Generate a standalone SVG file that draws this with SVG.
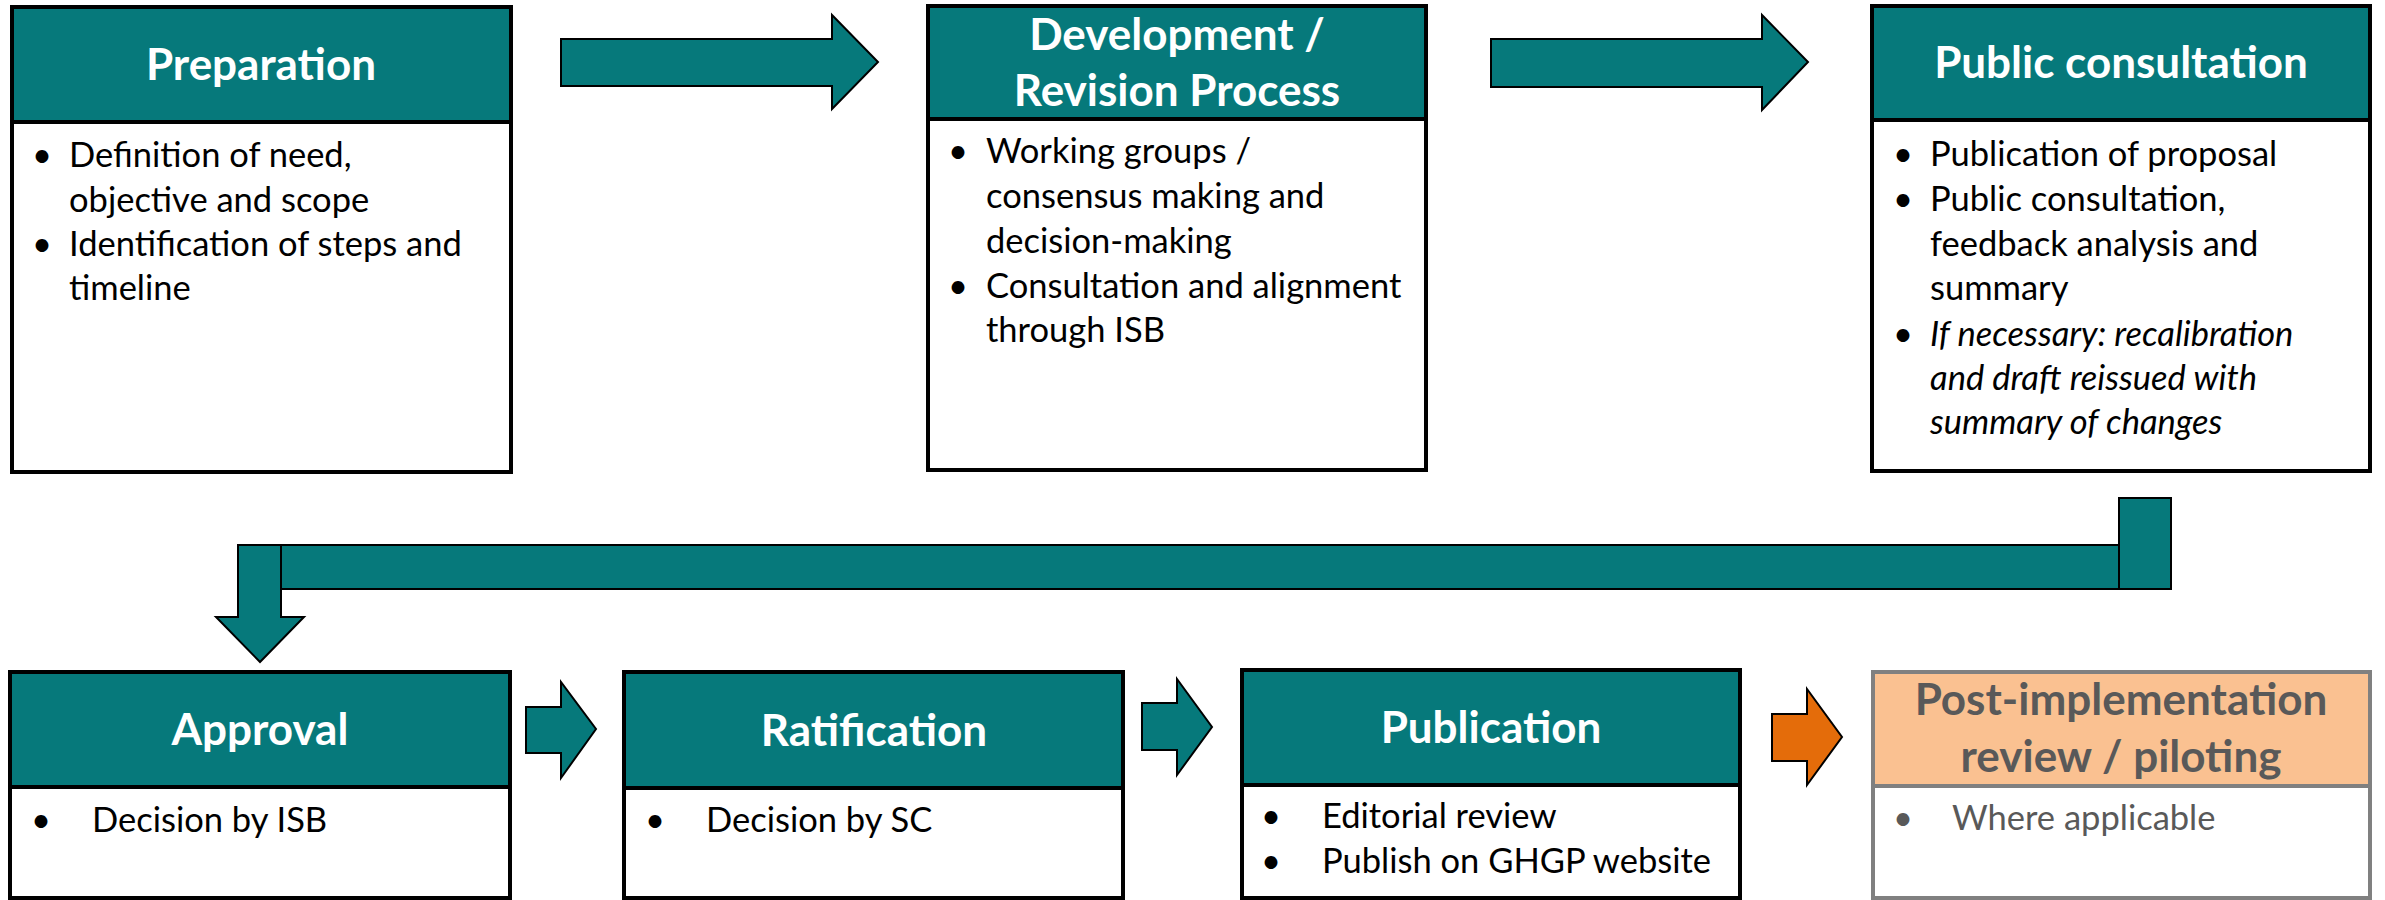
<svg xmlns="http://www.w3.org/2000/svg" width="2385" height="900" viewBox="0 0 2385 900">
<style>
.box{fill:#fff;stroke:#000;stroke-width:4}
.hdr{fill:#06797b;stroke:#000;stroke-width:4}
.gbox{fill:#fff;stroke:#808080;stroke-width:4}
.ghdr{fill:#fac191;stroke:#808080;stroke-width:4}
.ttl{font-family:Lato,"Liberation Sans",sans-serif;font-weight:bold;font-size:44px;fill:#fff;text-anchor:middle}
.gttl{font-family:Lato,"Liberation Sans",sans-serif;font-weight:bold;font-size:44px;fill:#595959;text-anchor:middle}
.txt{font-family:Lato,"Liberation Sans",sans-serif;font-size:34.5px;fill:#000}
.gtxt{font-family:Lato,"Liberation Sans",sans-serif;font-size:34.5px;fill:#595959}
.it{font-style:italic}
.arr{fill:#06797b;stroke:#000;stroke-width:2}
.oarr{fill:#e46c0a;stroke:#000;stroke-width:2}
</style>
<g id="connectors">
<polygon class="arr" points="561,39 832,39 832,15 878,62 832,109 832,86 561,86"/>
<polygon class="arr" points="1491,39 1762,39 1762,15 1808,62 1762,110 1762,87 1491,87"/>
<rect class="arr" x="281" y="545" width="1838" height="44"/>
<rect class="arr" x="2119" y="498" width="52" height="91"/>
<polygon class="arr" points="238,545 281,545 281,617 304,617 260,662 216,617 238,617"/>
<polygon class="arr" points="526,707 561,707 561,682 596,729 561,778 561,753 526,753"/>
<polygon class="arr" points="1142,703 1177,703 1177,679 1212,727 1177,775 1177,750 1142,750"/>
<polygon class="oarr" points="1772,714 1807,714 1807,689 1842,737 1807,785 1807,761 1772,761"/>
</g>
<g id="preparation">
<rect class="box" x="12" y="7" width="499" height="465"/>
<rect class="hdr" x="12" y="7" width="499" height="115"/>
<text class="ttl" x="261" y="80">Preparation</text>
<text class="txt"><tspan x="32" y="167">•</tspan><tspan x="69" y="167">Definition of need,</tspan><tspan x="69" y="212">objective and scope</tspan><tspan x="32" y="256">•</tspan><tspan x="69" y="256">Identification of steps and</tspan><tspan x="69" y="300">timeline</tspan></text>
</g>
<g id="development">
<rect class="box" x="928" y="6" width="498" height="464"/>
<rect class="hdr" x="928" y="6" width="498" height="113"/>
<text class="ttl" x="1177" y="50">Development /</text>
<text class="ttl" x="1177" y="106">Revision Process</text>
<text class="txt"><tspan x="948" y="163">•</tspan><tspan x="986" y="163">Working groups /</tspan><tspan x="986" y="208">consensus making and</tspan><tspan x="986" y="253">decision-making</tspan><tspan x="948" y="298">•</tspan><tspan x="986" y="298">Consultation and alignment</tspan><tspan x="986" y="342">through ISB</tspan></text>
</g>
<g id="public-consultation">
<rect class="box" x="1872" y="6" width="498" height="465"/>
<rect class="hdr" x="1872" y="6" width="498" height="114"/>
<text class="ttl" x="2121" y="78">Public consultation</text>
<text class="txt"><tspan x="1893" y="166">•</tspan><tspan x="1930" y="166">Publication of proposal</tspan><tspan x="1893" y="211">•</tspan><tspan x="1930" y="211">Public consultation,</tspan><tspan x="1930" y="256">feedback analysis and</tspan><tspan x="1930" y="300">summary</tspan><tspan x="1893" y="346">•</tspan><tspan class="it" x="1930" y="346">If necessary: recalibration</tspan><tspan class="it" x="1930" y="390">and draft reissued with</tspan><tspan class="it" x="1930" y="434">summary of changes</tspan></text>
</g>
<g id="approval">
<rect class="box" x="10" y="672" width="500" height="226"/>
<rect class="hdr" x="10" y="672" width="500" height="115"/>
<text class="ttl" x="260" y="745">Approval</text>
<text class="txt"><tspan x="31" y="832">•</tspan><tspan x="92" y="832">Decision by ISB</tspan></text>
</g>
<g id="ratification">
<rect class="box" x="624" y="672" width="499" height="226"/>
<rect class="hdr" x="624" y="672" width="499" height="116"/>
<text class="ttl" x="874" y="746">Ratification</text>
<text class="txt"><tspan x="645" y="832">•</tspan><tspan x="706" y="832">Decision by SC</tspan></text>
</g>
<g id="publication">
<rect class="box" x="1242" y="670" width="498" height="228"/>
<rect class="hdr" x="1242" y="670" width="498" height="115"/>
<text class="ttl" x="1491" y="743">Publication</text>
<text class="txt"><tspan x="1261" y="828">•</tspan><tspan x="1322" y="828">Editorial review</tspan><tspan x="1261" y="873">•</tspan><tspan x="1322" y="873">Publish on GHGP website</tspan></text>
</g>
<g id="post-implementation">
<rect class="gbox" x="1873" y="672" width="497" height="226"/>
<rect class="ghdr" x="1873" y="672" width="497" height="114"/>
<text class="gttl" x="2121" y="715">Post-implementation</text>
<text class="gttl" x="2121" y="772">review / piloting</text>
<text class="gtxt"><tspan x="1893" y="830">•</tspan><tspan x="1952" y="830">Where applicable</tspan></text>
</g>
</svg>
